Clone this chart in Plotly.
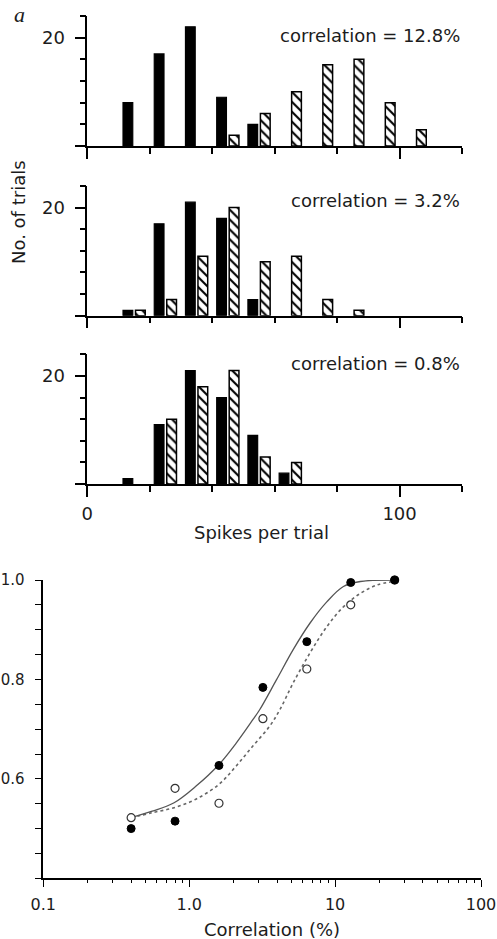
import plotly.graph_objects as go

W, H = 497, 939

# ---------------- data ----------------
bin_centers = [15, 25, 35, 45, 55, 65, 75, 85, 95, 105]

p1_black = [8, 17, 22, 9, 4, 0, 0, 0, 0, 0]
p1_hatch = [0, 0, 0, 2, 6, 10, 15, 16, 8, 3]
p2_black = [1, 17, 21, 18, 3, 0, 0, 0, 0, 0]
p2_hatch = [1, 3, 11, 20, 10, 11, 3, 1, 0, 0]
p3_black = [1, 11, 21, 16, 9, 2, 0, 0, 0, 0]
p3_hatch = [0, 12, 18, 21, 5, 4, 0, 0, 0, 0]
panel_labels = ["correlation = 12.8%", "correlation = 3.2%", "correlation = 0.8%"]

corr_pts = [0.4, 0.8, 1.6, 3.2, 6.4, 12.8, 25.6]
filled_y = [0.50, 0.515, 0.627, 0.784, 0.876, 0.995, 1.0]
open_y = [0.522, 0.581, 0.551, 0.721, 0.821, 0.950, 1.0]

solid_x = [0.4, 0.558, 0.788, 1.11, 1.6, 2.1, 2.73, 3.04, 3.96, 5.16, 6.72, 8.77, 11.4, 14.9, 25.3]
solid_y = [0.522, 0.535, 0.552, 0.585, 0.629, 0.672, 0.719, 0.739, 0.799, 0.860, 0.913, 0.956, 0.987, 0.997, 1.0]
dot_x = [0.4, 0.558, 0.788, 1.11, 1.6, 2.1, 2.73, 3.56, 4.18, 5.16, 6.72, 8.77, 11.4, 14.9, 19.4, 25.3]
dot_y = [0.522, 0.532, 0.542, 0.559, 0.589, 0.626, 0.666, 0.706, 0.739, 0.793, 0.853, 0.906, 0.946, 0.973, 0.990, 0.997]

x_ticks_log = [0.1, 1, 10, 100]
x_ticktext_log = ["0.1", "1.0", "10", "100"]
y_ticks_bottom = [0.4, 0.45, 0.5, 0.55, 0.6, 0.65, 0.7, 0.75, 0.8, 0.85, 0.9, 0.95, 1.0]
y_ticktext_bottom = ["", "", "", "", "0.6", "", "", "", "0.8", "", "", "", "1.0"]

# ---------------- layout helpers ----------------
FONT = "DejaVu Sans"
INK = "#1c1c1c"

def fx(px):
    return px / W

def fy(py):
    return 1 - py / H

fig = go.Figure()

panels = [(p1_black, p1_hatch), (p2_black, p2_hatch), (p3_black, p3_hatch)]
for i, (blk, hat) in enumerate(panels):
    n = "" if i == 0 else str(i + 1)
    fig.add_trace(go.Bar(x=bin_centers, y=blk, xaxis="x" + n, yaxis="y" + n,
                         marker=dict(color="black",
                                     line=dict(color="black",
                                               width=[1.2 if v > 0 else 0 for v in blk])),
                         showlegend=False))
    fig.add_trace(go.Bar(x=bin_centers, y=hat, xaxis="x" + n, yaxis="y" + n,
                         marker=dict(color="white",
                                     line=dict(color="black",
                                               width=[1.5 if v > 0 else 0 for v in hat]),
                                     pattern=dict(shape="\\", fgcolor="black", bgcolor="white",
                                                  size=7, solidity=0.3)),
                         showlegend=False))

# bottom panel
fig.add_trace(go.Scatter(x=dot_x, y=dot_y, xaxis="x4", yaxis="y4", mode="lines",
                         line=dict(color="#666", width=1.6, dash="dot", shape="spline"),
                         showlegend=False, cliponaxis=False))
fig.add_trace(go.Scatter(x=solid_x, y=solid_y, xaxis="x4", yaxis="y4", mode="lines",
                         line=dict(color="#555", width=1.3, shape="spline"),
                         showlegend=False, cliponaxis=False))
fig.add_trace(go.Scatter(x=corr_pts, y=open_y, xaxis="x4", yaxis="y4", mode="markers",
                         marker=dict(size=8, color="white", line=dict(color="#333", width=1.2)),
                         showlegend=False, cliponaxis=False))
fig.add_trace(go.Scatter(x=corr_pts, y=filled_y, xaxis="x4", yaxis="y4", mode="markers",
                         marker=dict(size=8, color="black", line=dict(color="black", width=1)),
                         showlegend=False, cliponaxis=False))

tickfont = dict(family=FONT, size=18, color=INK)
tickfont_b = dict(family=FONT, size=16, color=INK)
tickfont_by = dict(family=FONT, size=15, color=INK)

hist_x_domain = [fx(87.3), fx(462)]
hist_y_domains = [(146, 16), (315.7, 186), (484, 354.3)]

layout = dict(
    template="none",
    width=W, height=H,
    margin=dict(l=0, r=0, t=0, b=0, pad=0, autoexpand=False),
    paper_bgcolor="white", plot_bgcolor="white",
    barmode="group", bargap=0.2, bargroupgap=0.22,
    font=dict(family=FONT, color=INK),
    showlegend=False,
)

for i, (base, top) in enumerate(hist_y_domains):
    n = "" if i == 0 else str(i + 1)
    xa = "xaxis" + n
    ya = "yaxis" + n
    layout[xa] = dict(domain=hist_x_domain, range=[0, 120], anchor="y" + n,
                      automargin=False,
                      showline=True, linecolor="black", linewidth=1.5,
                      showgrid=False, zeroline=False,
                      tickvals=[0, 100], ticktext=["0", "100"],
                      showticklabels=(i == 2), ticks="outside", ticklen=11,
                      tickwidth=1.5, tickcolor="black", tickfont=tickfont,
                      ticklabelstandoff=2,
                      minor=dict(dtick=20, ticks="outside", ticklen=6, tickwidth=1.5,
                                 tickcolor="black", showgrid=False))
    layout[ya] = dict(domain=[fy(base), fy(top)], range=[0, 24], anchor="x" + n,
                      automargin=False,
                      showline=True, linecolor="black", linewidth=1.5,
                      showgrid=False, zeroline=False,
                      tickvals=[0, 20], ticktext=["", "20"],
                      ticks="outside", ticklen=11, tickwidth=1.5, tickcolor="black",
                      tickfont=tickfont, ticklabelstandoff=6,
                      minor=dict(dtick=4, ticks="outside", ticklen=6, tickwidth=1.5,
                                 tickcolor="black", showgrid=False))

minor_log = [0.2, 0.3, 0.4, 0.5, 0.6, 0.7, 0.8, 0.9,
             2, 3, 4, 5, 6, 7, 8, 9, 20, 30, 40, 50, 60, 70, 80, 90]
layout["xaxis4"] = dict(domain=[fx(43.3), fx(481)], type="log", range=[-1, 2], anchor="y4",
                        automargin=False,
                        showline=True, linecolor="black", linewidth=1.5,
                        showgrid=False, zeroline=False,
                        tickvals=x_ticks_log, ticktext=x_ticktext_log,
                        ticks="outside", ticklen=7, tickwidth=1.2, tickcolor="black",
                        tickfont=tickfont_b, ticklabelstandoff=4,
                        minor=dict(tickvals=minor_log, ticks="outside", ticklen=3,
                                   tickwidth=1, tickcolor="black", showgrid=False))
layout["yaxis4"] = dict(domain=[fy(878.3), fy(580)], range=[0.4, 1.0], anchor="x4",
                        automargin=False,
                        showline=True, linecolor="black", linewidth=1.5,
                        showgrid=False, zeroline=False,
                        tickvals=y_ticks_bottom, ticktext=y_ticktext_bottom,
                        ticks="outside", ticklen=7, tickwidth=1.2, tickcolor="black",
                        tickfont=tickfont_by, ticklabelstandoff=7)

fig.update_layout(**layout)

def ann(text, px, py, size=18, family=FONT, xanchor="center", angle=0):
    return dict(text=text, x=fx(px), y=fy(py), xref="paper", yref="paper",
                xanchor=xanchor, yanchor="middle", textangle=angle, showarrow=False,
                font=dict(family=family, size=size, color=INK))

annotations = [
    ann("<i>a</i>", 19, 14, size=22, family="Liberation Serif"),
    ann("No. of trials", 18, 212, angle=-90),
    ann("Spikes per trial", 261.5, 532.7),
    ann("Correlation (%)", 272, 929),
]
for label, ypx in zip(panel_labels, [35, 200.5, 363.3]):
    annotations.append(ann(label, 462, ypx, xanchor="right"))
fig.update_layout(annotations=annotations)

fig.write_html("out.html", config={"displayModeBar": False},
               post_script="document.body.style.margin='0px';")
